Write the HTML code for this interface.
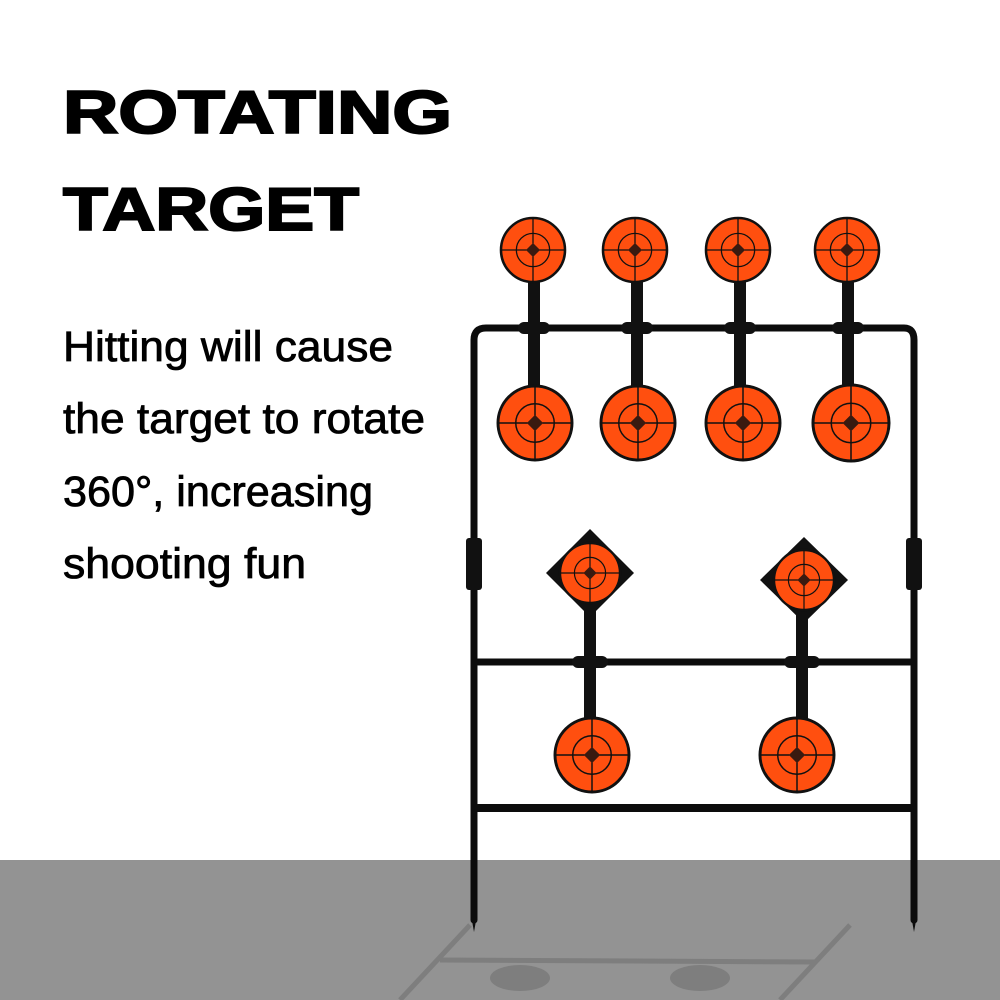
<!DOCTYPE html>
<html><head><style>
html,body{margin:0;padding:0;background:#fff;}
svg{display:block;}
</style></head><body>
<svg width="1000" height="1000" viewBox="0 0 1000 1000" xmlns="http://www.w3.org/2000/svg">
<defs>
<g id="tg">
  <circle r="1" fill="#ff4f0f" stroke="#111" stroke-width="0.08"/>
  <circle r="0.52" fill="none" stroke="#111" stroke-width="0.04"/>
  <line x1="-1" y1="0" x2="-0.2" y2="0" stroke="#111" stroke-width="0.04"/>
  <line x1="0.2" y1="0" x2="1" y2="0" stroke="#111" stroke-width="0.04"/>
  <line x1="0" y1="-1" x2="0" y2="-0.2" stroke="#111" stroke-width="0.04"/>
  <line x1="0" y1="0.2" x2="0" y2="1" stroke="#111" stroke-width="0.04"/>
  <polygon points="0,-0.22 0.22,0 0,0.22 -0.22,0" fill="#3a1a10"/>
</g>
</defs>
<rect x="0" y="860" width="1000" height="140" fill="#939393"/>
<g stroke="#7e7e7e" stroke-width="5" fill="none">
<line x1="470" y1="925" x2="400" y2="1000"/>
<line x1="850" y1="925" x2="780" y2="1000"/>
<line x1="440" y1="960" x2="815" y2="962"/>
</g>
<ellipse cx="520" cy="978" rx="30" ry="13" fill="#7e7e7e"/>
<ellipse cx="700" cy="978" rx="30" ry="13" fill="#7e7e7e"/>

<text x="63" y="133" font-family="Liberation Sans, sans-serif" font-weight="bold" font-size="60" textLength="389" lengthAdjust="spacingAndGlyphs" fill="#000" stroke="#000" stroke-width="2">ROTATING</text>
<text x="63" y="230" font-family="Liberation Sans, sans-serif" font-weight="bold" font-size="60" textLength="296" lengthAdjust="spacingAndGlyphs" fill="#000" stroke="#000" stroke-width="2">TARGET</text>
<g font-family="Liberation Sans, sans-serif" font-size="43" fill="#000" stroke="#000" stroke-width="0.8">
<text x="63" y="361" textLength="330" lengthAdjust="spacingAndGlyphs">Hitting will cause</text>
<text x="63" y="433" textLength="362" lengthAdjust="spacingAndGlyphs">the target to rotate</text>
<text x="63" y="506" textLength="310" lengthAdjust="spacingAndGlyphs">360°, increasing</text>
<text x="63" y="578" textLength="243" lengthAdjust="spacingAndGlyphs">shooting fun</text>
</g>

<g stroke="#0c0c0c" fill="none" stroke-linecap="round">
<path d="M474 920 V340 Q474 328 486 328 H904 Q914 328 914 340 V920" stroke-width="7"/>
<line x1="478" y1="662" x2="910" y2="662" stroke-width="7"/>
<line x1="478" y1="808" x2="910" y2="808" stroke-width="8"/>
</g>
<polygon points="471,915 477,915 474,932" fill="#0c0c0c"/>
<polygon points="911,915 917,915 914,932" fill="#0c0c0c"/>
<rect x="466" y="538" width="16" height="52" rx="3" fill="#111"/>
<rect x="906" y="538" width="16" height="52" rx="3" fill="#111"/>

<g fill="#111">
<rect x="528" y="275" width="12" height="125" rx="5"/>
<rect x="631" y="275" width="12" height="125" rx="5"/>
<rect x="734" y="275" width="12" height="125" rx="5"/>
<rect x="842" y="275" width="12" height="125" rx="5"/>
<rect x="584" y="600" width="12" height="130" rx="5"/>
<rect x="796" y="600" width="12" height="130" rx="5"/>
<rect x="518" y="322" width="32" height="12" rx="6"/>
<rect x="621" y="322" width="32" height="12" rx="6"/>
<rect x="724" y="322" width="32" height="12" rx="6"/>
<rect x="832" y="322" width="32" height="12" rx="6"/>
<rect x="572" y="656" width="36" height="12" rx="6"/>
<rect x="784" y="656" width="36" height="12" rx="6"/>
</g>
<polygon points="590,529 634,573 590,617 546,573" fill="#111"/>
<polygon points="804,537 848,580 804,623 760,580" fill="#111"/>

<use href="#tg" transform="translate(533,250) scale(32)"/>
<use href="#tg" transform="translate(635,250) scale(32)"/>
<use href="#tg" transform="translate(738,250) scale(32)"/>
<use href="#tg" transform="translate(847,250) scale(32)"/>
<use href="#tg" transform="translate(535,423) scale(37)"/>
<use href="#tg" transform="translate(638,423) scale(37)"/>
<use href="#tg" transform="translate(743,423) scale(37)"/>
<use href="#tg" transform="translate(851,423) scale(38)"/>
<use href="#tg" transform="translate(590,573) scale(30)"/>
<use href="#tg" transform="translate(804,580) scale(30)"/>
<use href="#tg" transform="translate(592,755) scale(37)"/>
<use href="#tg" transform="translate(797,755) scale(37)"/>
</svg>
</body></html>
